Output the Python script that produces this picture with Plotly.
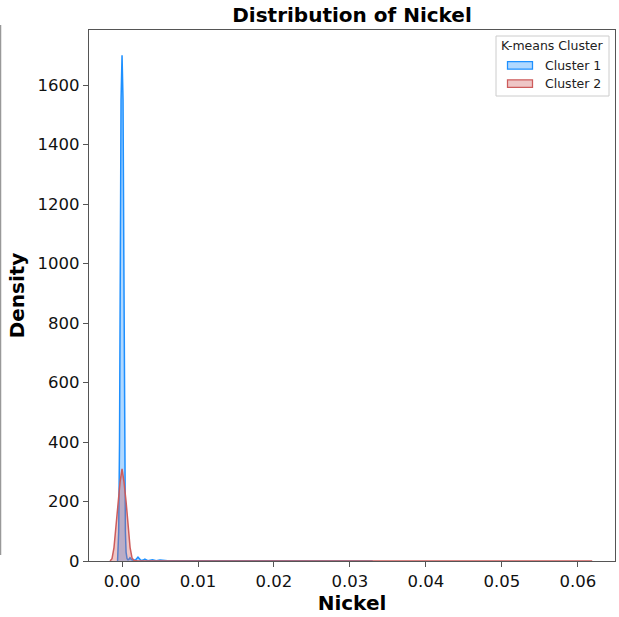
import plotly.graph_objects as go

# ---- data (KDE curves) ----
cluster1_x = [-0.00059, -0.00053, -0.00044, -0.00033, -0.00024, -0.00013, 0.0,
              0.00013, 0.00024, 0.00033, 0.00044, 0.00053, 0.00066, 0.00079,
              0.00092, 0.00105, 0.00125, 0.00145, 0.0018, 0.0021, 0.0025, 0.0028,
              0.0030, 0.0034, 0.0040, 0.0045, 0.0050, 0.0060, 0.0080, 0.0100,
              0.0150, 0.0200, 0.0260, 0.0330]
cluster1_y = [0, 30, 100, 400, 1000, 1550, 1700,
              1550, 1000, 400, 100, 30, 8, 4,
              6, 11, 5, 3, 4, 13, 2, 3,
              6, 1, 4, 1, 3, 1, 1, 0.5,
              0.5, 0.3, 0.2, 0]

cluster2_x = [-0.00158, -0.00132, -0.00106, -0.00079, -0.00053, -0.00026, 0.0,
              0.00026, 0.00053, 0.00079, 0.00106, 0.00132, 0.00158, 0.0020,
              0.0030, 0.0050, 0.0100, 0.0200, 0.0300, 0.0400, 0.0500, 0.0619]
cluster2_y = [0, 8, 45, 125, 200, 265, 310,
              265, 200, 125, 45, 10, 2, 0.6,
              0.3, 0.2, 0.1, 0.1, 0.1, 0.1, 0.1, 0]

series_names = ["Cluster 1", "Cluster 2"]
legend_title = "K-means Cluster"
line_colors = ["#1e90ff", "#cd5c5c"]
fill_colors = ["rgba(30,144,255,0.35)", "rgba(205,92,92,0.35)"]
y_ticks = [0, 200, 400, 600, 800, 1000, 1200, 1400, 1600]
x_ticks = [0.00, 0.01, 0.02, 0.03, 0.04, 0.05, 0.06]

FONT = "DejaVu Sans"
# plot area in pixels
PL, PR, PT, PB = 89, 615, 30, 561
def px(x):
    return (x - PL) / (PR - PL)
def py(y):
    return (PB - y) / (PB - PT)

fig = go.Figure()
for xs, ys, name, lc, fc in zip([cluster1_x, cluster2_x], [cluster1_y, cluster2_y],
                                series_names, line_colors, fill_colors):
    fig.add_trace(go.Scatter(
        x=xs, y=ys, name=name, mode="lines", showlegend=False,
        line=dict(color=lc, width=1.5), fill="tozeroy", fillcolor=fc))

axis_common = dict(showline=True, mirror=True, linecolor="#555555", linewidth=1.25,
                   ticks="outside", ticklen=5, tickwidth=1.25, tickcolor="#555555",
                   showgrid=False, zeroline=False, layer="below traces",
                   tickfont=dict(family=FONT, size=16.5, color="#111111"))

fig.update_xaxes(range=[-0.00435, 0.0649], tickvals=x_ticks,
                 ticktext=[f"{v:.2f}" for v in x_ticks],
                 title=dict(text="<b>Nickel</b>", font=dict(family=FONT, size=20, color="#000"), standoff=6),
                 **axis_common)
fig.update_yaxes(range=[0, 1785], tickvals=y_ticks,
                 title=dict(text="<b>Density</b>", font=dict(family=FONT, size=20, color="#000"), standoff=7),
                 **axis_common)

# manual matplotlib-style legend
shapes = [dict(type="line", xref="paper", yref="paper",
               x0=px(0.5), x1=px(0.5), y0=py(25), y1=py(555),
               line=dict(color="#999999", width=1.5)),
          dict(type="rect", xref="paper", yref="paper",
               x0=px(496), x1=px(609), y0=py(36), y1=py(96),
               line=dict(color="#cccccc", width=1), fillcolor="rgba(255,255,255,0.8)")]
annotations = [dict(text=legend_title, xref="paper", yref="paper", x=px(552.5), y=py(46),
                    xanchor="center", yanchor="middle", showarrow=False,
                    font=dict(family=FONT, size=12.5, color="#222"))]
for i, (name, lc, fc) in enumerate(zip(series_names, line_colors, fill_colors)):
    cy = 65.3 + i * 18.3
    shapes.append(dict(type="rect", xref="paper", yref="paper",
                       x0=px(507.5), x1=px(532.5), y0=py(cy - 3.8), y1=py(cy + 3.8),
                       line=dict(color=lc, width=1.25), fillcolor=fc))
    annotations.append(dict(text=name, xref="paper", yref="paper", x=px(542.5), y=py(cy),
                            xanchor="left", yanchor="middle", showarrow=False,
                            font=dict(family=FONT, size=12.5, color="#222")))

fig.update_layout(
    width=619, height=617, autosize=False,
    margin=dict(l=PL, r=619 - PR, t=PT, b=617 - PB),
    paper_bgcolor="white", plot_bgcolor="white",
    title=dict(text="<b>Distribution of Nickel</b>", x=(PL + PR) / 2 / 619, xanchor="center",
               y=1 - 15 / 617, yanchor="middle", yref="container",
               font=dict(family=FONT, size=20, color="#000")),
    showlegend=False,
    shapes=shapes,
    annotations=annotations,
)

fig.write_html("out.html")
